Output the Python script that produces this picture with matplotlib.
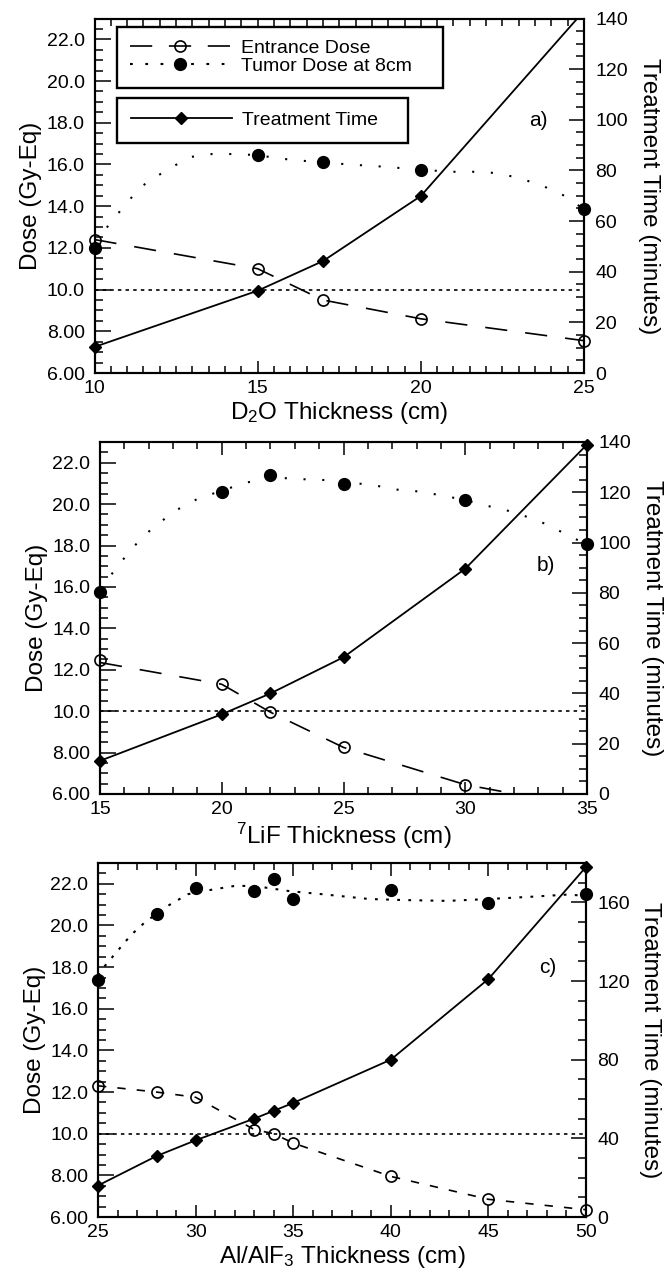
import matplotlib
matplotlib.use('Agg')
import matplotlib.pyplot as plt
from matplotlib.lines import Line2D
from matplotlib.ticker import MultipleLocator, FuncFormatter

plt.rcParams['font.family'] = ['Liberation Sans', 'DejaVu Sans']
plt.rcParams['mathtext.fontset'] = 'custom'
plt.rcParams['mathtext.rm'] = 'Liberation Sans'
plt.rcParams['mathtext.it'] = 'Liberation Sans:italic'
plt.rcParams['mathtext.bf'] = 'Liberation Sans:bold'
plt.rcParams['lines.scale_dashes'] = False

# ---------------- data ----------------
# Panel a: D2O thickness
a_x = [10, 15, 17, 20, 25]
a_entrance = [12.4, 11.0, 9.5, 8.6, 7.55]
a_tumor = [12.0, 16.45, 16.1, 15.75, 13.85]
a_time = [10.3, 32.5, 44.2, 69.9, 143.0]
a_fit_x = [10.0, 10.5, 11.0, 11.6, 12.3, 12.9, 13.6, 14.2, 15.0, 15.6, 16.2,
           17.0, 17.8, 18.8, 20.0, 20.9, 22.0, 22.9, 23.7, 24.4, 25.0]
a_fit_y = [12.3, 13.2, 14.2, 15.15, 15.8, 16.35, 16.5, 16.5, 16.45, 16.3, 16.2,
           16.1, 16.0, 15.9, 15.75, 15.65, 15.65, 15.4, 15.0, 14.5, 13.85]

# Panel b: 7LiF thickness
b_x = [15, 20, 22, 25, 30, 35]
b_tumor = [15.75, 20.6, 21.4, 20.95, 20.2, 18.05]
b_time = [13.2, 31.7, 40.0, 54.4, 89.6, 139.0]
b_ent_x = [15, 20, 22, 25, 30]
b_entrance = [12.45, 11.3, 9.95, 8.25, 6.45]
b_ent_line_x = [15, 20, 22, 25, 30, 32.3]
b_ent_line_y = [12.35, 11.3, 9.95, 8.25, 6.45, 5.95]
b_fit_x = [15.0, 15.6, 16.3, 17.2, 18.2, 19.0, 20.0, 20.9, 21.9, 23.4, 24.5,
           26.3, 27.2, 28.2, 30.0, 30.6, 31.7, 32.5, 33.4, 34.2, 35.0]
b_fit_y = [15.9, 16.8, 17.85, 18.9, 19.75, 20.25, 20.65, 21.0, 21.3, 21.2, 21.15,
           20.9, 20.7, 20.6, 20.2, 20.0, 19.7, 19.4, 19.0, 18.5, 18.05]

# Panel c: Al/AlF3 thickness
c_x = [25, 28, 30, 33, 34, 35, 40, 45, 50]
c_entrance = [12.3, 12.0, 11.75, 10.2, 10.0, 9.55, 7.95, 6.85, 6.35]
c_tumor = [17.4, 20.55, 21.8, 21.65, 22.25, 21.25, 21.7, 21.1, 21.5]
c_time = [16, 31, 39, 50, 54, 58, 80, 121, 178]
c_fit_x = [25.0, 25.3, 26.2, 26.7, 27.4, 28.5, 29.6, 30.4, 32.0, 33.0, 34.8,
           36.5, 38.9, 40.7, 42.9, 45.0, 47.2, 49.0, 50.0]
c_fit_y = [17.6, 18.0, 19.0, 19.55, 20.15, 20.9, 21.5, 21.65, 21.9, 21.9, 21.65,
           21.5, 21.27, 21.22, 21.18, 21.27, 21.38, 21.48, 21.43]

reference_dose = 10.0

legend_labels = ['Entrance Dose', 'Tumor Dose at 8cm', 'Treatment Time']

# ---------------- figure ----------------
fig = plt.figure(figsize=(6.67, 12.81), dpi=100)

TICK_FS = 14
LABEL_FS = 17.5


def dose_fmt(v, p):
    return f'{v:.2f}' if v < 9.99 else f'{v:.1f}'


def panel(rect, xlim, xmajor, xminor, x, ent_x, ent, ent_lx, ent_ly, tum,
          fit_x, fit_y, tim, tmax, tmajor, tminor, ent_dash, fit_dash,
          xlabel, tag, tag_xy):
    ax = fig.add_axes(rect)
    ax2 = ax.twinx()
    ax.set_xlim(*xlim)
    ax.set_ylim(6, 23)
    ax2.set_ylim(0, tmax)

    ax.axhline(reference_dose, color='k', lw=1.2, ls=(0, (2.5, 3)))
    ax.plot(ent_lx, ent_ly, color='k', lw=1.2, ls=(0, ent_dash))
    ax.plot(ent_x, ent, 'o', mfc='none', mec='k', ms=8, mew=1.2, clip_on=False)
    ax.plot(fit_x, fit_y, color='k', lw=1.5, ls=(0, fit_dash))
    ax.plot(x, tum, 'o', color='k', ms=8.5, clip_on=False)
    ax2.plot(x, tim, '-', color='k', lw=1.3)
    vis = [(xi, ti) for xi, ti in zip(x, tim) if ti <= tmax]
    ax2.plot([v[0] for v in vis], [v[1] for v in vis], 'D', color='k',
             ms=6.5, clip_on=False)

    ax.xaxis.set_major_locator(MultipleLocator(xmajor))
    ax.xaxis.set_minor_locator(MultipleLocator(xminor))
    ax.yaxis.set_major_locator(MultipleLocator(2))
    ax.yaxis.set_minor_locator(MultipleLocator(0.5))
    ax.yaxis.set_major_formatter(FuncFormatter(dose_fmt))
    ax.xaxis.set_major_formatter(FuncFormatter(lambda v, p: f'{v:.0f}'))
    ax2.yaxis.set_major_locator(MultipleLocator(tmajor))
    ax2.yaxis.set_minor_locator(MultipleLocator(tminor))

    ax.tick_params(axis='x', which='both', direction='in', top=True,
                   bottom=True, labelsize=TICK_FS, pad=5, width=1.1)
    ax.tick_params(axis='x', which='major', length=9)
    ax.tick_params(axis='x', which='minor', length=5)
    ax.tick_params(axis='y', which='both', direction='in', left=True,
                   right=False, labelsize=TICK_FS, pad=7, width=1.1)
    ax.tick_params(axis='y', which='major', length=11.5)
    ax.tick_params(axis='y', which='minor', length=6)
    ax2.tick_params(axis='y', which='both', direction='in', right=True,
                    labelsize=TICK_FS, pad=8, width=1.1)
    ax2.tick_params(axis='y', which='major', length=11)
    ax2.tick_params(axis='y', which='minor', length=6)

    for a in (ax, ax2):
        for s in a.spines.values():
            s.set_linewidth(1.5)

    ax.set_xlabel(xlabel, fontsize=LABEL_FS, labelpad=2)
    ax.set_ylabel('Dose (Gy-Eq)', fontsize=LABEL_FS, labelpad=3)
    ax2.set_ylabel('Treatment Time (minutes)', fontsize=LABEL_FS,
                   rotation=270, va='bottom', labelpad=7)
    ax.text(tag_xy[0], tag_xy[1], tag, fontsize=15, ha='center', va='center')
    return ax, ax2


W, H = 667.0, 1281.0


def rect(l, r, t, b):
    return [l / W, 1 - b / H, (r - l) / W, (b - t) / H]


ax_a, ax2_a = panel(rect(94.5, 584, 18.5, 373), (10, 25), 5, 0.5,
                    a_x, a_x, a_entrance, a_x, a_entrance, a_tumor,
                    a_fit_x, a_fit_y, a_time, 140, 20, 5,
                    (16, 13), (1.5, 12),
                    r'D$_2$O Thickness (cm)', 'a)', (23.6, 18.1))

panel(rect(100, 587, 442, 794), (15, 35), 5, 1,
      b_x, b_ent_x, b_entrance, b_ent_line_x, b_ent_line_y, b_tumor,
      b_fit_x, b_fit_y, b_time, 140, 20, 5,
      (16, 13), (1.5, 12),
      r'$^7$LiF Thickness (cm)', 'b)', (33.3, 17.05))

panel(rect(98, 586, 863, 1217), (25, 50), 5, 1,
      c_x, c_x, c_entrance, c_x, c_entrance, c_tumor,
      c_fit_x, c_fit_y, c_time, 180, 40, 10,
      (6, 8), (2, 6),
      r'Al/AlF$_3$ Thickness (cm)', 'c)', (48.05, 18.0))

# legends (panel a)
h_ent = Line2D([], [], color='k', lw=1.2, ls=(0, (16, 12)), marker='o',
               mfc='none', mec='k', ms=8, mew=1.2)
h_tum = Line2D([], [], color='k', lw=1.5, ls=(0, (2, 9)), marker='o', ms=8.5)
h_tim = Line2D([], [], color='k', lw=1.3, ls='-', marker='D', ms=6.5)

common = dict(loc='upper left', mode='expand', borderaxespad=0, fontsize=14,
              handlelength=5.2, handletextpad=0.55, labelspacing=0,
              frameon=True, fancybox=False, edgecolor='k', framealpha=1,
              numpoints=1)
leg1 = ax2_a.legend([h_ent, h_tum], legend_labels[:2],
                    bbox_to_anchor=(0.046, 0.5, 0.666, 0.476),
                    borderpad=0.65, **common)
leg1.get_frame().set_linewidth(1.7)
ax2_a.add_artist(leg1)
leg2 = ax2_a.legend([h_tim], legend_labels[2:],
                    bbox_to_anchor=(0.046, 0.3, 0.594, 0.476),
                    borderpad=0.7, **common)
leg2.get_frame().set_linewidth(1.7)

fig.savefig('out.png', dpi=100)
